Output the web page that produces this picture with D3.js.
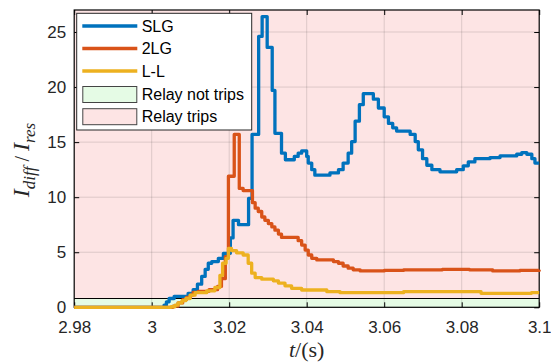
<!DOCTYPE html>
<html><head><meta charset="utf-8">
<script src="https://cdn.jsdelivr.net/npm/d3@7"></script>
<style>body{margin:0;background:#fff}svg{display:block}</style>
</head><body>
<svg id="c" width="551" height="362"></svg>
<script>
// ---- data ----
const xTicks = [2.98, 3.0, 3.02, 3.04, 3.06, 3.08, 3.1];
const xTickLabels = ["2.98", "3", "3.02", "3.04", "3.06", "3.08", "3.1"];
const yTicks = [0, 5, 10, 15, 20, 25];
const seriesNames = ["SLG", "2LG", "L-L"];
const regionNames = ["Relay not trips", "Relay trips"];
const threshold = 0.8;
const yMax = 27;

const slgData = [[2.98,0],[3.0032,0.2],[3.0038,0.5],[3.0045,0.8],[3.0058,1.0],[3.0094,1.27],[3.0107,1.6],[3.0118,2.1],[3.0129,2.8],[3.0138,3.45],[3.0146,4.0],[3.0155,4.15],[3.0172,4.45],[3.0185,4.9],[3.0203,6.3],[3.0210,7.9],[3.0224,7.5],[3.0250,9.9],[3.0259,15.7],[3.0276,24.6],[3.0285,26.4],[3.0298,23.6],[3.0311,19.7],[3.0318,15.8],[3.0335,14.0],[3.0345,13.4],[3.0368,13.7],[3.0378,14.0],[3.0387,14.2],[3.0400,13.7],[3.0404,13.1],[3.0413,12.5],[3.0421,12.0],[3.0460,12.2],[3.0482,12.5],[3.0494,13.1],[3.0507,14.0],[3.0516,15.05],[3.0525,16.9],[3.0536,18.4],[3.0546,19.4],[3.0572,18.9],[3.0585,18.1],[3.0600,17.3],[3.0611,16.7],[3.0622,16.3],[3.0632,16.0],[3.0667,15.7],[3.0680,15.05],[3.0688,14.3],[3.0699,13.5],[3.0710,12.9],[3.0723,12.5],[3.0744,12.3],[3.0787,12.5],[3.0804,12.85],[3.0817,13.2],[3.0834,13.5],[3.0873,13.6],[3.0899,13.75],[3.0942,13.9],[3.0955,14.05],[3.0968,13.9],[3.0981,13.5],[3.0989,13.1],[3.1,13.1]];

const lg2Data = [[2.98,0],[3.0055,0.1],[3.0068,0.4],[3.0080,0.7],[3.0090,0.9],[3.0100,1.1],[3.0107,1.35],[3.0120,1.45],[3.0148,1.6],[3.0170,1.9],[3.0180,2.6],[3.0190,4.6],[3.0198,11.9],[3.0213,15.7],[3.0226,10.8],[3.0236,10.6],[3.0260,9.5],[3.0267,9.0],[3.0275,8.7],[3.0284,8.2],[3.0292,7.9],[3.0301,7.6],[3.0310,7.3],[3.0318,7.0],[3.0327,6.65],[3.0335,6.35],[3.0378,6.05],[3.0387,5.65],[3.0396,5.2],[3.0404,4.75],[3.0413,4.45],[3.0426,4.3],[3.0469,4.15],[3.0482,4.0],[3.0494,3.75],[3.0507,3.55],[3.0520,3.4],[3.0538,3.3],[3.060,3.35],[3.065,3.4],[3.075,3.45],[3.082,3.4],[3.088,3.3],[3.095,3.35],[3.1,3.4]];

const llData = [[2.98,0],[3.0050,0.05],[3.0060,0.2],[3.0068,0.4],[3.0078,0.6],[3.0088,0.8],[3.0099,1.1],[3.0112,1.33],[3.0142,1.5],[3.0163,1.8],[3.0176,2.9],[3.0183,4.0],[3.0192,4.45],[3.0198,5.35],[3.0206,5.15],[3.0219,4.95],[3.0236,4.75],[3.0249,4.0],[3.0258,3.1],[3.0267,2.7],[3.0284,2.55],[3.0314,2.4],[3.0327,2.2],[3.0344,1.95],[3.0361,1.72],[3.0387,1.57],[3.0452,1.42],[3.0486,1.33],[3.065,1.42],[3.085,1.27],[3.098,1.33],[3.1,1.33]];

const seriesColors = ["#0072BD", "#D95319", "#EDB120"];
const regionColors = ["#E5FBE5", "#FDE4E4"];

// ---- layout ----
const L = 74.2, R = 539.2, T = 10, B = 307.3;
const svg = d3.select("#c");
const x = d3.scaleLinear().domain([2.98, 3.1]).range([L, R]);
const y = d3.scaleLinear().domain([0, yMax]).range([B, T]);
const sans = "'Liberation Sans', Arial, Helvetica, sans-serif";
const serif = "'Liberation Serif', 'Times New Roman', serif";

// regions
svg.append("rect").attr("x", L).attr("y", y(yMax)).attr("width", R - L).attr("height", y(threshold) - y(yMax)).attr("fill", regionColors[1]);
svg.append("rect").attr("x", L).attr("y", y(threshold)).attr("width", R - L).attr("height", y(0) - y(threshold)).attr("fill", regionColors[0]);

// grid
const grid = svg.append("g").attr("stroke", "#262626").attr("stroke-opacity", 0.15).attr("stroke-width", 1);
xTicks.slice(1, -1).forEach(t => grid.append("line").attr("x1", x(t)).attr("x2", x(t)).attr("y1", T).attr("y2", B));
yTicks.slice(1).forEach(t => grid.append("line").attr("x1", L).attr("x2", R).attr("y1", y(t)).attr("y2", y(t)));

// threshold edge
svg.append("line").attr("x1", L).attr("x2", R).attr("y1", y(threshold)).attr("y2", y(threshold)).attr("stroke", "#000").attr("stroke-width", 1.2);

// axes
const ax = (g, a) => { g.call(a); g.select(".domain").remove(); g.selectAll(".tick line").attr("stroke", "#000"); };
const fs = 17;
const gb = svg.append("g").attr("transform", `translate(0,${B})`);
ax(gb, d3.axisBottom(x).tickValues(xTicks).tickSize(-5).tickPadding(13.5).tickFormat((d, i) => xTickLabels[i]));
const gt = svg.append("g").attr("transform", `translate(0,${T})`);
ax(gt, d3.axisTop(x).tickValues(xTicks).tickSize(-5).tickFormat(""));
const gl = svg.append("g").attr("transform", `translate(${L},0)`);
ax(gl, d3.axisLeft(y).tickValues(yTicks).tickSize(-5).tickPadding(8));
const gr = svg.append("g").attr("transform", `translate(${R},0)`);
ax(gr, d3.axisRight(y).tickValues(yTicks).tickSize(-5).tickFormat(""));
svg.selectAll(".tick text").attr("font-family", sans).attr("font-size", fs).attr("fill", "#262626");
svg.append("rect").attr("x", L).attr("y", T).attr("width", R - L).attr("height", B - T).attr("fill", "none").attr("stroke", "#000").attr("stroke-width", 1.2);

// lines drawn over the box, plotted in legend order
const lineG = svg.append("g");
const line = d3.line().x(d => x(d[0])).y(d => y(d[1])).curve(d3.curveStepAfter);
[slgData, lg2Data, llData].forEach((data, i) => {
  lineG.append("path").datum(data).attr("d", line).attr("fill", "none")
    .attr("stroke", seriesColors[i]).attr("stroke-width", 3.3).attr("stroke-linejoin", "round");
});

// x label
const xl = svg.append("text").attr("x", (L + R) / 2).attr("y", 356.5).attr("text-anchor", "middle")
  .attr("font-family", serif).attr("font-size", 22).attr("fill", "#262626");
xl.append("tspan").attr("font-style", "italic").text("t");
xl.append("tspan").text("/(s)");

// y label
const yl = svg.append("text").attr("transform", "translate(29,160) rotate(-90)").attr("text-anchor", "middle")
  .attr("font-family", serif).attr("font-size", 24).attr("fill", "#262626");
yl.append("tspan").attr("font-style", "italic").text("I");
yl.append("tspan").attr("font-style", "italic").attr("font-size", 17).attr("dy", 6).text("diff");
yl.append("tspan").attr("dy", -6).attr("dx", 5).attr("font-size", 20).text("/");
yl.append("tspan").attr("font-style", "italic").attr("dx", 5).text("I");
yl.append("tspan").attr("font-style", "italic").attr("font-size", 17).attr("dy", 6).text("res");

// legend
const lg = svg.append("g");
lg.append("rect").attr("x", 76.7).attr("y", 13.3).attr("width", 175).attr("height", 116.7).attr("fill", "#fff").attr("stroke", "#262626").attr("stroke-width", 1);
const rows = [26, 48.5, 71, 94.5, 116.7];
seriesNames.forEach((n, i) => {
  lg.append("line").attr("x1", 82.3).attr("x2", 137.3).attr("y1", rows[i]).attr("y2", rows[i]).attr("stroke", seriesColors[i]).attr("stroke-width", 3.3);
});
regionNames.forEach((n, i) => {
  lg.append("rect").attr("x", 82.8).attr("y", rows[3 + i] - 8).attr("width", 54).attr("height", 16)
    .attr("fill", regionColors[i]).attr("stroke", "#444").attr("stroke-width", 1);
});
seriesNames.concat(regionNames).forEach((n, i) => {
  lg.append("text").attr("x", 141.7).attr("y", rows[i]).attr("dy", "0.36em").attr("font-family", sans).attr("font-size", 16).attr("fill", "#000").text(n);
});
</script>
</body></html>
